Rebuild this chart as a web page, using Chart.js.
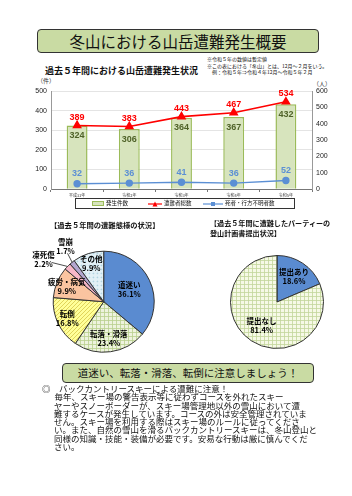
<!DOCTYPE html>
<html lang="ja">
<head>
<meta charset="utf-8">
<script src="https://cdn.jsdelivr.net/npm/chart.js@4.4.1/dist/chart.umd.min.js"></script>
<style>
  body { margin: 0; background: #fff; font-family: "Noto Sans CJK JP", sans-serif; color: #111; }
  #page { position: relative; width: 352px; height: 496px; overflow: hidden; }
  .abs { position: absolute; white-space: nowrap; }
  .box { position: absolute; background: #c9dba3; border: 1px solid #333; border-radius: 4px; text-align: center; }
  canvas { position: absolute; }
  #legend { position: absolute; left: 75px; top: 198px; width: 218px; height: 9px; border: 1px solid #333; font-size: 5.5px; line-height: 9px; }
  #legend span { position: absolute; top: 0; }
  #legend svg { position: absolute; top: 2px; }
  .para div { height: 8.3px; line-height: 8.3px; }
</style>
</head>
<body>
<div id="page">
  <div class="box" style="left:37px;top:29px;width:280px;height:22px;font-size:15.5px;line-height:22px;">冬山における山岳遭難発生概要</div>

  <div class="abs" style="left:45px;top:65px;font-size:9px;font-weight:bold;line-height:11px;">過去５年間における山岳遭難発生状況</div>
  <div class="abs" style="left:207px;top:56px;font-size:5px;line-height:5.5px;">※令和５年の数値は暫定値</div>
  <div class="abs" style="left:207px;top:63px;font-size:5px;line-height:5.5px;">※この表における「冬山」とは、12月～２月をいう。<br>　例：令和５年⇒令和４年12月～令和５年２月</div>

  <div class="abs" style="left:37px;top:77px;font-size:6px;line-height:7px;color:#333;">（件）</div>
  <div class="abs" style="left:313px;top:80px;font-size:6px;line-height:7px;color:#333;">（人）</div>

  <canvas id="barChart" width="352" height="122" style="left:0;top:78px;"></canvas>

  <div id="legend">
    <svg style="left:16px" width="12" height="5"><rect x="0.5" y="0.5" width="11" height="4" fill="#d7e4bd" stroke="#9bbb59"/></svg>
    <span style="left:30px">発生件数</span>
    <svg style="left:72px" width="14" height="6"><line x1="0" y1="3" x2="14" y2="3" stroke="#ff0000" stroke-width="1.2"/><polygon points="7,0.5 9.5,5.5 4.5,5.5" fill="#ff0000"/></svg>
    <span style="left:88px">遭難者総数</span>
    <svg style="left:127px" width="20" height="6"><line x1="0" y1="3" x2="20" y2="3" stroke="#5b8fd4" stroke-width="1.2"/><rect x="8" y="1" width="4" height="4" fill="#5b8fd4"/></svg>
    <span style="left:149px">死者・行方不明者数</span>
  </div>

  <div class="abs" style="left:50px;top:221px;font-size:7.3px;font-weight:bold;line-height:9px;">【過去５年間の遭難態様の状況】</div>
  <div class="abs" style="left:210px;top:218px;font-size:7.1px;font-weight:bold;line-height:10px;">【過去５年間に遭難したパーティーの<br>登山計画書提出状況】</div>

  <canvas id="pieCause" width="176" height="128" style="left:0;top:232px;"></canvas>
  <canvas id="piePlan" width="176" height="120" style="left:176px;top:240px;"></canvas>

  <div class="box" style="left:62px;top:363px;width:250px;height:18px;font-size:10.5px;line-height:18px;">道迷い、転落・滑落、転倒に注意しましょう！</div>

  <div class="abs para" style="left:42px;top:384px;font-size:8.5px;">
    <div>◎　バックカントリースキーによる遭難に注意！</div>
    <div style="padding-left:4px">　毎年、スキー場の警告表示等に従わずコースを外れたスキー</div>
    <div style="padding-left:12px">ヤーやスノーボーダーが、スキー場管理地以外の雪山において遭</div>
    <div style="padding-left:12px">難するケースが発生しています。コースの外は安全管理されていま</div>
    <div style="padding-left:12px">せん。スキー場を利用する際はスキー場のルールに従ってくださ</div>
    <div style="padding-left:12px">い。また、自然の雪山を滑るバックカントリースキーは、冬山登山と</div>
    <div style="padding-left:12px">同様の知識・技能・装備が必要です。安易な行動は厳に慎んでくだ</div>
    <div style="padding-left:12px">さい。</div>
  </div>
</div>

<script>
// --- data ---
const years = ['平成31年', '令和2年', '令和3年', '令和4年', '令和5年'];
const incidents = [324, 306, 364, 367, 432];      // 発生件数 (件)
const victims = [389, 383, 443, 467, 534];        // 遭難者総数 (人)
const deadMissing = [32, 36, 41, 36, 52];         // 死者・行方不明者数 (人)
const leftTicks = [0, 50, 100, 150, 200, 250, 300, 350, 400, 450, 500];
const rightTicks = [0, 100, 200, 300, 400, 500, 600];

const causeNames = ['道迷い', '転落・滑落', '転倒', '疲労・病気', '凍死傷', '雪崩', 'その他'];
const causeShares = [36.1, 23.4, 16.8, 9.9, 2.2, 1.7, 9.9];
const planNames = ['提出あり', '提出なし'];
const planShares = [18.6, 81.4];

const JP = '"Noto Sans CJK JP", sans-serif';

function makePattern(bg, fg, kind) {
  const c = document.createElement('canvas');
  c.width = 4; c.height = 4;
  const g = c.getContext('2d');
  g.fillStyle = bg; g.fillRect(0, 0, 4, 4);
  g.strokeStyle = fg; g.lineWidth = 0.8;
  g.beginPath();
  if (kind === 'grid') {
    g.moveTo(0, 0.5); g.lineTo(4, 0.5);
    g.moveTo(0.5, 0); g.lineTo(0.5, 4);
  } else if (kind === 'diag') {
    g.moveTo(0, 4); g.lineTo(4, 0);
    g.moveTo(-1, 1); g.lineTo(1, -1);
    g.moveTo(3, 5); g.lineTo(5, 3);
  } else if (kind === 'dots') {
    g.rect(1, 1, 0.8, 0.8);
  }
  g.stroke();
  return g.createPattern(c, 'repeat');
}

// value labels on bars / points
const valueLabels = {
  id: 'valueLabels',
  afterDatasetsDraw(chart) {
    const ctx = chart.ctx;
    ctx.save();
    ctx.textAlign = 'center';
    ctx.textBaseline = 'middle';
    chart.data.datasets.forEach((ds, i) => {
      const meta = chart.getDatasetMeta(i);
      ctx.font = 'bold 9px "Liberation Sans", sans-serif';
      ctx.fillStyle = ds.labelColor;
      meta.data.forEach((el, j) => {
        ctx.fillText(ds.data[j], el.x, el.y + ds.labelDy);
      });
    });
    ctx.restore();
  }
};

new Chart(document.getElementById('barChart'), {
  data: {
    labels: years,
    datasets: [
      {
        type: 'line', label: '遭難者総数', data: victims, yAxisID: 'y1', order: 1,
        borderColor: '#ff0000', backgroundColor: '#ff0000', borderWidth: 1.6,
        pointStyle: 'triangle', pointRadius: 4, tension: 0,
        labelColor: '#ff0000', labelDy: -8
      },
      {
        type: 'line', label: '死者・行方不明者数', data: deadMissing, yAxisID: 'y1', order: 2,
        borderColor: '#5b8fd4', backgroundColor: '#5b8fd4', borderWidth: 1.4,
        pointStyle: 'circle', pointRadius: 3, tension: 0,
        labelColor: '#5b8fd4', labelDy: -10
      },
      {
        type: 'bar', label: '発生件数', data: incidents, yAxisID: 'y', order: 3,
        backgroundColor: '#d7e4bd', borderColor: '#9bbb59', borderWidth: 1.5,
        barPercentage: 0.4, categoryPercentage: 1,
        labelColor: '#4f6228', labelDy: 10
      }
    ]
  },
  options: {
    responsive: false,
    animation: false,
    events: [],
    layout: { padding: { top: 13 } },
    plugins: { legend: { display: false }, tooltip: { enabled: false } },
    scales: {
      x: {
        grid: { drawOnChartArea: false, tickLength: 3, color: '#777' },
        border: { color: '#777' },
        ticks: { font: { size: 4, family: JP }, color: '#333', padding: 1, maxRotation: 0, autoSkip: false },
        afterFit(s) { s.height = 11; }
      },
      y: {
        position: 'left', min: 0, max: 500,
        afterBuildTicks(s) { s.ticks = leftTicks.map(v => ({ value: v })); },
        grid: { color: '#d9d9d9', lineWidth: 0.7, drawTicks: false },
        border: { color: '#999' },
        ticks: { font: { size: 7, family: '"Liberation Sans", sans-serif' }, color: '#222', padding: 4 },
        afterFit(s) { s.width = 51; }
      },
      y1: {
        position: 'right', min: 0, max: 600,
        afterBuildTicks(s) { s.ticks = rightTicks.map(v => ({ value: v })); },
        grid: { drawOnChartArea: false, drawTicks: false },
        border: { color: '#999' },
        ticks: { font: { size: 7, family: '"Liberation Sans", sans-serif' }, color: '#222', padding: 4 },
        afterFit(s) { s.width = 40; }
      }
    }
  },
  plugins: [valueLabels]
});

// slice labels for the pies
function sliceLabels(cfg) {
  return {
    id: 'sliceLabels',
    afterDatasetsDraw(chart) {
      const ctx = chart.ctx;
      const meta = chart.getDatasetMeta(0);
      const ds = chart.data.datasets[0];
      ctx.save();
      ctx.font = 'bold 7.5px ' + JP;
      ctx.fillStyle = '#000';
      ctx.textAlign = 'center';
      ctx.textBaseline = 'middle';
      meta.data.forEach((arc, i) => {
        const p = arc.getProps(['x', 'y', 'startAngle', 'endAngle', 'outerRadius']);
        const mid = (p.startAngle + p.endAngle) / 2;
        const text = [chart.data.labels[i], ds.data[i].toFixed(1) + '%'];
        const ext = cfg.external[i];
        let lx, ly;
        if (ext) {
          const ox = p.x + Math.cos(mid) * p.outerRadius;
          const oy = p.y + Math.sin(mid) * p.outerRadius;
          lx = ox + ext[0]; ly = oy + ext[1];
          ctx.strokeStyle = '#000';
          ctx.lineWidth = 0.7;
          ctx.beginPath();
          ctx.moveTo(lx + ext[2], ly + ext[3]);
          ctx.lineTo(ox, oy);
          ctx.stroke();
        } else {
          const r = p.outerRadius * cfg.radius[i];
          lx = p.x + Math.cos(mid) * r;
          ly = p.y + Math.sin(mid) * r;
        }
        ctx.fillText(text[0], lx, ly - 4.5);
        ctx.fillText(text[1], lx, ly + 4.5);
      });
      ctx.restore();
    }
  };
}

new Chart(document.getElementById('pieCause'), {
  type: 'pie',
  data: {
    labels: causeNames,
    datasets: [{
      data: causeShares,
      backgroundColor: [
        '#5a8bd0',
        makePattern('#eef3de', '#b9cf8e', 'grid'),
        makePattern('#ffff99', '#d8c84a', 'diag'),
        '#fac4a0',
        '#f7b7c8',
        '#b3a6cf',
        makePattern('#e2f0f6', '#a9cfe0', 'dots')
      ],
      borderColor: '#333',
      borderWidth: 1
    }]
  },
  options: {
    responsive: false, animation: false, events: [],
    layout: { padding: { left: 52.7, right: 21.3, top: 18.7, bottom: 7.3 } },
    plugins: { legend: { display: false }, tooltip: { enabled: false } }
  },
  plugins: [sliceLabels({
    radius: [0.56, 0.74, 0.8, 0.79, 0, 0, 0.8],
    external: { 4: [-24, -7, 8, 3], 5: [-6.6, -16, 2, 7] }
  })]
});

new Chart(document.getElementById('piePlan'), {
  type: 'pie',
  data: {
    labels: planNames,
    datasets: [{
      data: planShares,
      backgroundColor: ['#5a8bd0', makePattern('#f6f9e6', '#c3d69b', 'grid')],
      borderColor: '#333',
      borderWidth: 1
    }]
  },
  options: {
    responsive: false, animation: false, events: [],
    layout: { padding: { left: 54, right: 28, top: 15, bottom: 11 } },
    plugins: { legend: { display: false }, tooltip: { enabled: false } }
  },
  plugins: [sliceLabels({ radius: [0.66, 0.6], external: {} })]
});
</script>
</body>
</html>
